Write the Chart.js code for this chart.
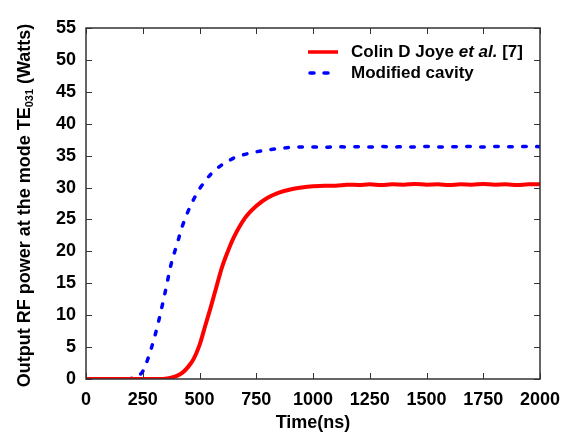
<!DOCTYPE html>
<html>
<head>
<meta charset="utf-8">
<script src="https://cdn.jsdelivr.net/npm/chart.js@4.4.1/dist/chart.umd.min.js"></script>
<style>
	body { margin: 0; background: #fff; }
	#wrap { width: 566px; height: 434px; }
</style>
</head>
<body>
<div id="wrap"><canvas id="powerChart"></canvas></div>
<script>
	/* Data */
	var timeNs = [0, 50, 100, 150, 200, 225, 250, 275, 300, 325, 350, 375, 400, 425, 450, 475, 500, 525, 550, 575, 600, 625, 650, 700, 750, 800, 850, 900, 950, 1000, 1050, 1100, 1150, 1200, 1250, 1300, 1350, 1400, 1450, 1500, 1550, 1600, 1650, 1700, 1750, 1800, 1850, 1900, 1950, 2000];
	var joyePower = [0, 0, 0, 0, 0, 0, 0, 0, 0, 0, 0.05, 0.2, 0.5, 1.0, 1.9, 3.2, 5.3, 8.3, 11.3, 14.5, 17.6, 20.0, 22.1, 25.2, 27.1, 28.4, 29.2, 29.7, 30.0, 30.2, 30.3, 30.3, 30.45, 30.4, 30.5, 30.4, 30.5, 30.45, 30.55, 30.45, 30.5, 30.4, 30.5, 30.45, 30.55, 30.45, 30.5, 30.4, 30.5, 30.5];
	var modifiedPower = [0, 0, 0, 0, 0.1, 0.4, 1.2, 3.4, 6.3, 9.8, 13.8, 18.0, 21.0, 24.0, 26.3, 28.2, 29.8, 31.0, 32.1, 32.9, 33.6, 34.1, 34.6, 35.2, 35.6, 35.9, 36.1, 36.3, 36.35, 36.35, 36.3, 36.4, 36.35, 36.4, 36.35, 36.45, 36.35, 36.4, 36.35, 36.45, 36.35, 36.4, 36.4, 36.45, 36.35, 36.45, 36.4, 36.4, 36.45, 36.4];
	var xTicks = [0, 250, 500, 750, 1000, 1250, 1500, 1750, 2000];
	var yTicks = [0, 5, 10, 15, 20, 25, 30, 35, 40, 45, 50, 55];

	var FONT = 'Liberation Sans, Arial, Helvetica, sans-serif';

	function toPoints(ys) {
		return timeNs.map(function (t, i) { return { x: t, y: ys[i] }; });
	}

	/* frame, inside ticks, y title and legend */
	var decorPlugin = {
		id: 'decor',
		afterDraw: function (chart) {
			var ctx = chart.ctx;
			var a = chart.chartArea;
			var xs = chart.scales.x, ys = chart.scales.y;
			ctx.save();
			ctx.strokeStyle = '#333';
			ctx.lineWidth = 1.5;
			ctx.strokeRect(a.left, a.top, a.right - a.left, a.bottom - a.top);
			ctx.lineWidth = 1;
			ctx.beginPath();
			xTicks.forEach(function (v) {
				var px = Math.round(xs.getPixelForValue(v)) + 0.5;
				ctx.moveTo(px, a.bottom); ctx.lineTo(px, a.bottom - 6);
				ctx.moveTo(px, a.top); ctx.lineTo(px, a.top + 6);
			});
			yTicks.forEach(function (v) {
				var py = Math.round(ys.getPixelForValue(v)) + 0.5;
				ctx.moveTo(a.left, py); ctx.lineTo(a.left + 6, py);
				ctx.moveTo(a.right, py); ctx.lineTo(a.right - 6, py);
			});
			ctx.stroke();

			/* y title with subscript */
			ctx.fillStyle = '#000';
			ctx.textBaseline = 'middle';
			var p1 = 'Output RF power at the mode TE', p2 = '031', p3 = ' (Watts)';
			ctx.font = 'bold 18px ' + FONT;
			var w1 = ctx.measureText(p1).width, w3 = ctx.measureText(p3).width;
			ctx.font = 'bold 11px ' + FONT;
			var w2 = ctx.measureText(p2).width;
			var total = w1 + w2 + w3;
			ctx.translate(25, (a.top + a.bottom) / 2 + 2);
			ctx.rotate(-Math.PI / 2);
			ctx.textAlign = 'left';
			var sx = -total / 2;
			ctx.font = 'bold 18px ' + FONT;
			ctx.fillText(p1, sx, 0);
			ctx.font = 'bold 11px ' + FONT;
			ctx.fillText(p2, sx + w1, 5);
			ctx.font = 'bold 18px ' + FONT;
			ctx.fillText(p3, sx + w1 + w2, 0);
			ctx.restore();

			/* legend */
			ctx.save();
			var lx = 308, tx = 351;
			var rows = [
				{ y: 52, color: '#ff0000', dash: [], cap: 'butt' },
				{ y: 73, color: '#0000ff', dash: [4, 10], cap: 'round' }
			];
			rows.forEach(function (r) {
				ctx.beginPath();
				ctx.strokeStyle = r.color;
				ctx.lineWidth = 3.5;
				ctx.lineCap = r.cap;
				ctx.setLineDash(r.dash);
				ctx.moveTo(lx + (r.cap === 'round' ? 2 : 0), r.y);
				ctx.lineTo(lx + 30, r.y);
				ctx.stroke();
			});
			ctx.setLineDash([]);
			ctx.fillStyle = '#000';
			ctx.textBaseline = 'middle';
			ctx.textAlign = 'left';
			var x = tx;
			ctx.font = 'bold 17px ' + FONT;
			ctx.fillText('Colin D Joye ', x, 52);
			x += ctx.measureText('Colin D Joye ').width;
			ctx.font = 'italic bold 17px ' + FONT;
			ctx.fillText('et al.', x, 52);
			x += ctx.measureText('et al.').width;
			ctx.font = 'bold 17px ' + FONT;
			ctx.fillText(' [7]', x, 52);
			ctx.fillText('Modified cavity', tx, 73);
			ctx.restore();
		}
	};

	var ctx = document.getElementById('powerChart').getContext('2d');
	var myChart = new Chart(ctx, {
		type: 'line',
		data: {
			datasets: [{
				label: 'Colin D Joye et al. [7]',
				data: toPoints(joyePower),
				borderColor: '#ff0000',
				backgroundColor: 'transparent',
				borderWidth: 4,
				pointRadius: 0,
				cubicInterpolationMode: 'monotone'
			}, {
				label: 'Modified cavity',
				data: toPoints(modifiedPower),
				borderColor: '#0000ff',
				backgroundColor: 'transparent',
				borderWidth: 3.5,
				borderDash: [3.5, 10.5],
				borderCapStyle: 'round',
				pointRadius: 0,
				cubicInterpolationMode: 'monotone'
			}]
		},
		options: {
			responsive: true,
			maintainAspectRatio: false,
			animation: false,
			layout: { padding: { left: 0, top: 28, right: 26, bottom: 0 } },
			scales: {
				x: {
					type: 'linear',
					min: 0,
					max: 2000,
					afterBuildTicks: function (s) { s.ticks = xTicks.map(function (v) { return { value: v }; }); },
					afterFit: function (s) { s.height = 55; s.paddingLeft = 0; s.paddingRight = 0; },
					grid: { display: false, drawTicks: false },
					border: { display: false },
					ticks: { color: '#000', padding: 10, maxRotation: 0, autoSkip: false, callback: function (v) { return String(v); }, font: { family: FONT, size: 18, weight: 'bold' } },
					title: { display: true, text: 'Time(ns)', color: '#000', padding: { top: 0, bottom: 0 }, font: { family: FONT, size: 18, weight: 'bold' } }
				},
				y: {
					min: 0,
					max: 55,
					afterBuildTicks: function (s) { s.ticks = yTicks.map(function (v) { return { value: v }; }); },
					afterFit: function (s) { s.width = 86; s.paddingTop = 0; s.paddingBottom = 0; },
					grid: { display: false, drawTicks: false },
					border: { display: false },
					ticks: { color: '#000', padding: 10, autoSkip: false, callback: function (v) { return String(v); }, font: { family: FONT, size: 18, weight: 'bold' } }
				}
			},
			plugins: {
				legend: { display: false },
				tooltip: { enabled: false }
			}
		},
		plugins: [decorPlugin]
	});
</script>
</body>
</html>
